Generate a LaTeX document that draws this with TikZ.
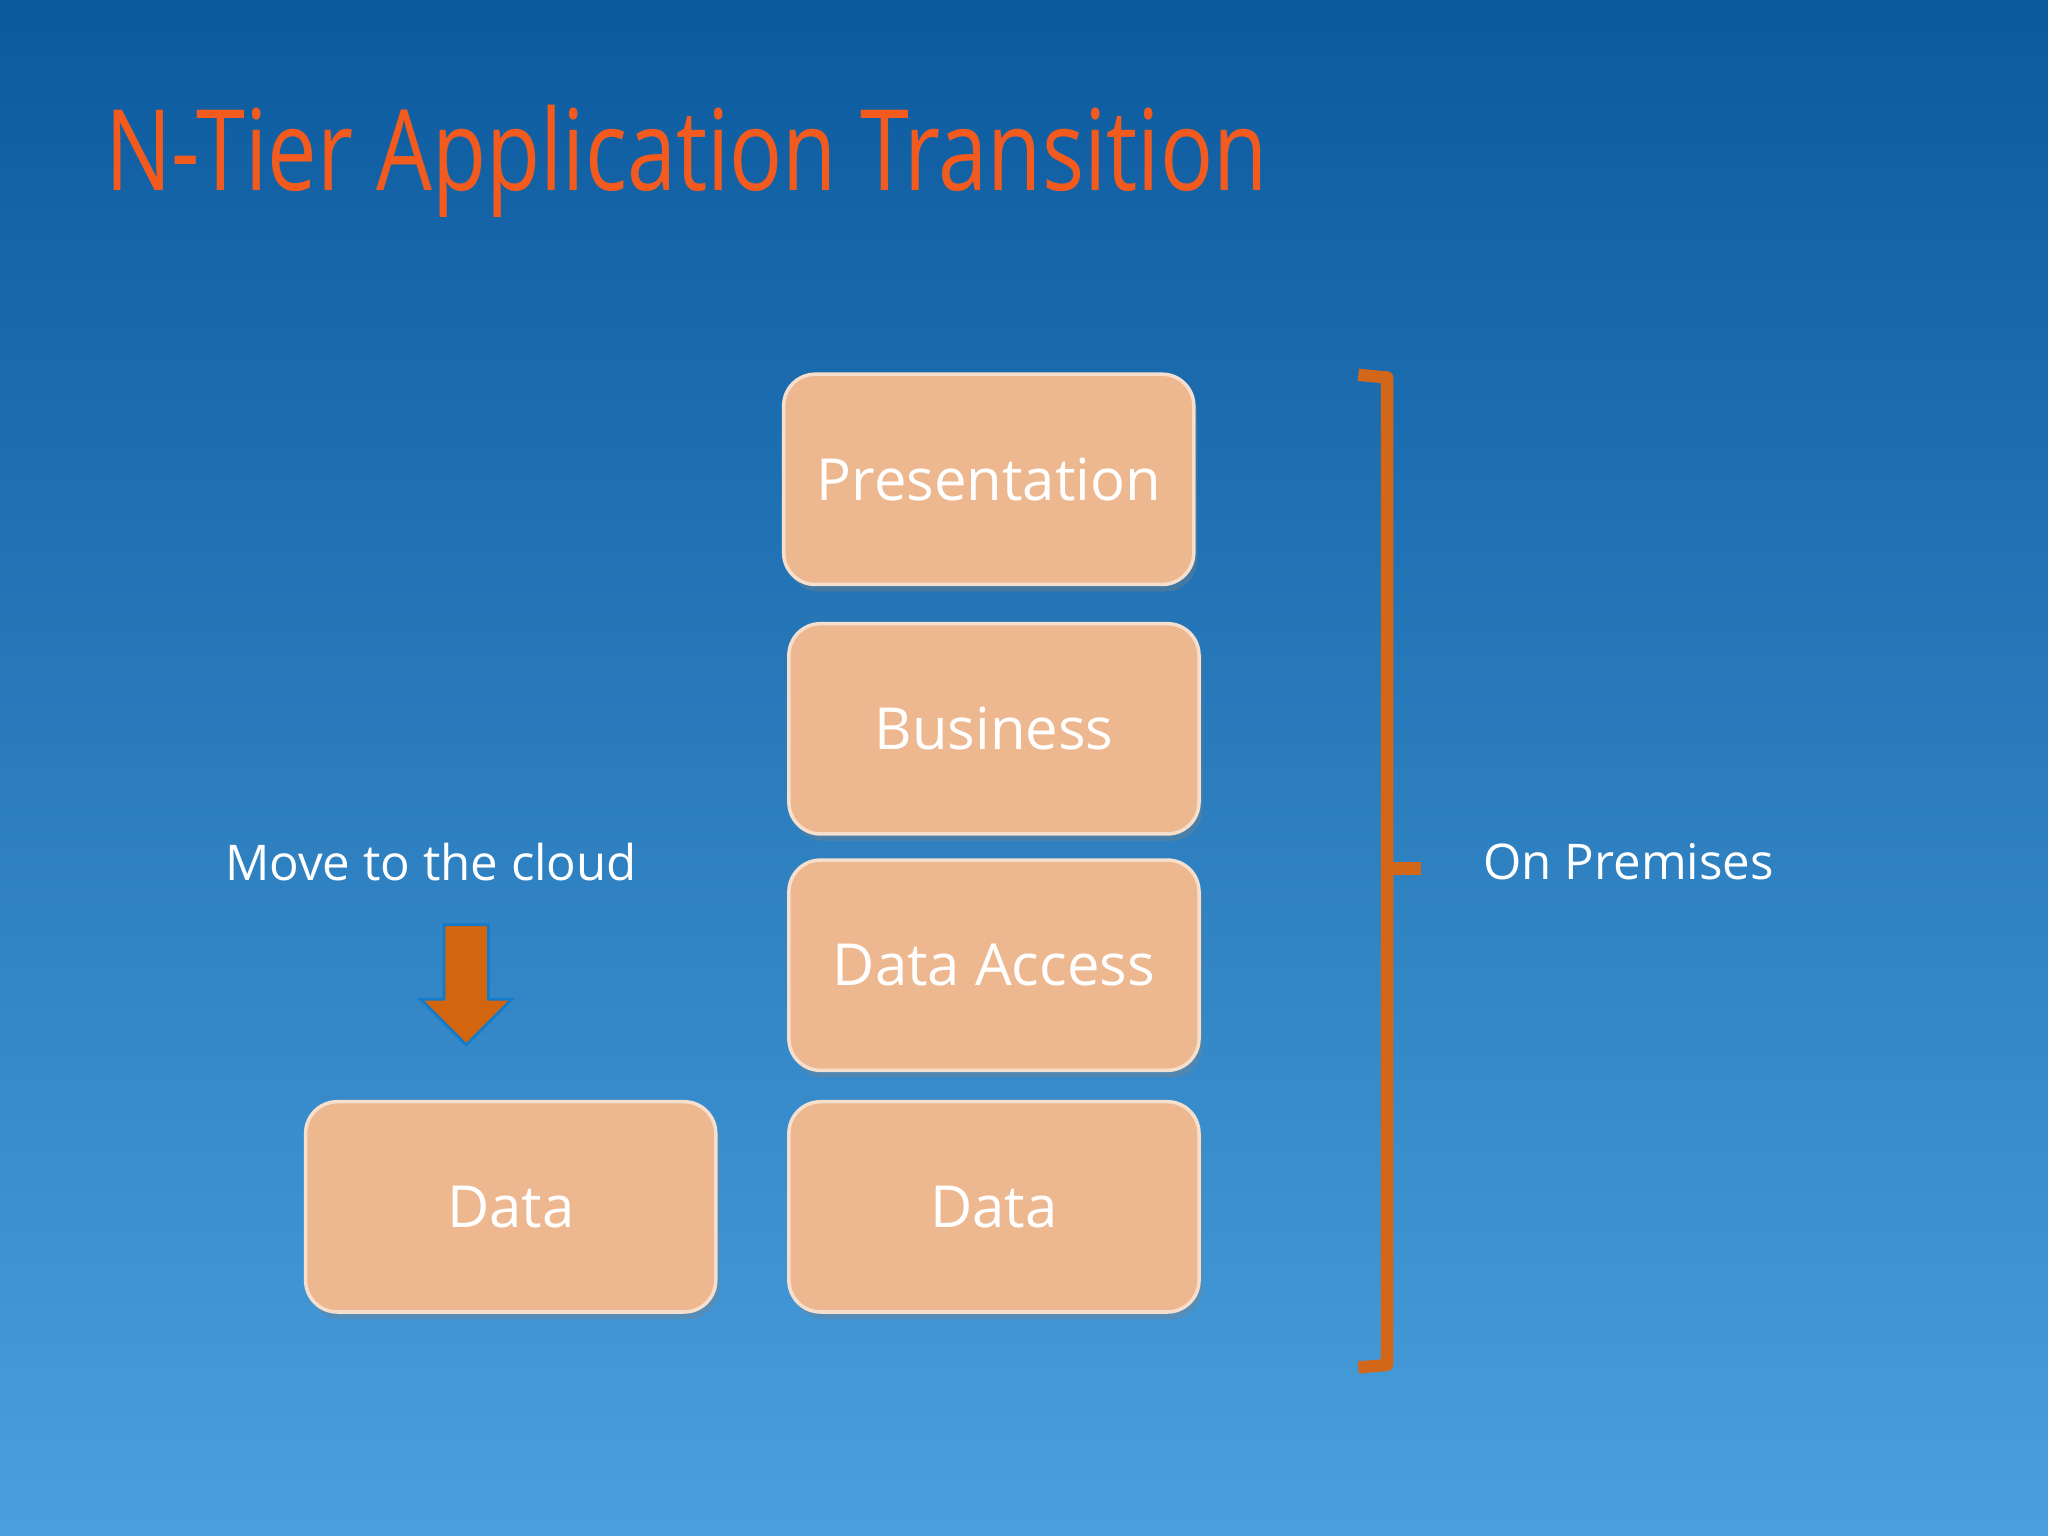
\documentclass[tikz,border=0pt]{standalone}
\usepackage{fontspec}
\setmainfont{Open Sans}
\usetikzlibrary{shadows}
\definecolor{bgtop}{HTML}{0B5A9E}
\definecolor{bgbot}{HTML}{4A9FDD}
\definecolor{tierfill}{HTML}{EDB890}
\definecolor{titleor}{HTML}{F35B1E}
\definecolor{bracketor}{HTML}{D2671A}
\definecolor{arrowor}{HTML}{D4650F}
\newcommand{\myunit}{0.01306cm}
\tikzset{
  tier/.style={draw=white!55!tierfill, line width=1pt, fill=tierfill, rounded corners=9pt,
    minimum width=314*\myunit, minimum height=161*\myunit, text=white, font=\fontsize{16.5}{20}\selectfont,
    drop shadow={shadow xshift=1pt, shadow yshift=-2pt, opacity=0.35}},
  lbl/.style={text=white, font=\fontsize{14}{18}\selectfont}
}
\begin{document}
\begin{tikzpicture}[x=0.01306cm,y=-0.01306cm]
\useasboundingbox (0,0) rectangle (1568,1176);
\shade[top color=bgtop, bottom color=bgbot] (0,0) rectangle (1568,1176);
\node[anchor=base west, text=titleor, font=\fontsize{32}{38}\selectfont, inner sep=0] (title) at (80,146) {\scalebox{0.785}[1]{N-Tier Application Transition}};
\node[tier] (pres) at (757,367) {Presentation};
\node[tier] (bus) at (761,558) {Business};
\node[tier] (da) at (761,739) {Data Access};
\node[tier] (dataR) at (761,924) {Data};
\node[tier] (dataL) at (391,924) {Data};
\node[lbl] (move) at (330,660) {Move to the cloud};
\node[lbl] (onp) at (1247,660) {On Premises};
\fill[arrowor, draw=cyan!60!blue, line width=0.8pt] (340,708) -- (374,708) -- (374,765) -- (392,765) -- (357,800) -- (322,765) -- (340,765) -- cycle;
\coordinate (bt) at (1040,287);
\coordinate (bb) at (1040,1047);
\draw[bracketor, line width=3.5pt, line join=round] (bt) -- (1062,289) -- (1062,1045) -- (bb);
\draw[bracketor, line width=3.5pt] (1062,665) -- (1088,665);
\end{tikzpicture}
\end{document}
